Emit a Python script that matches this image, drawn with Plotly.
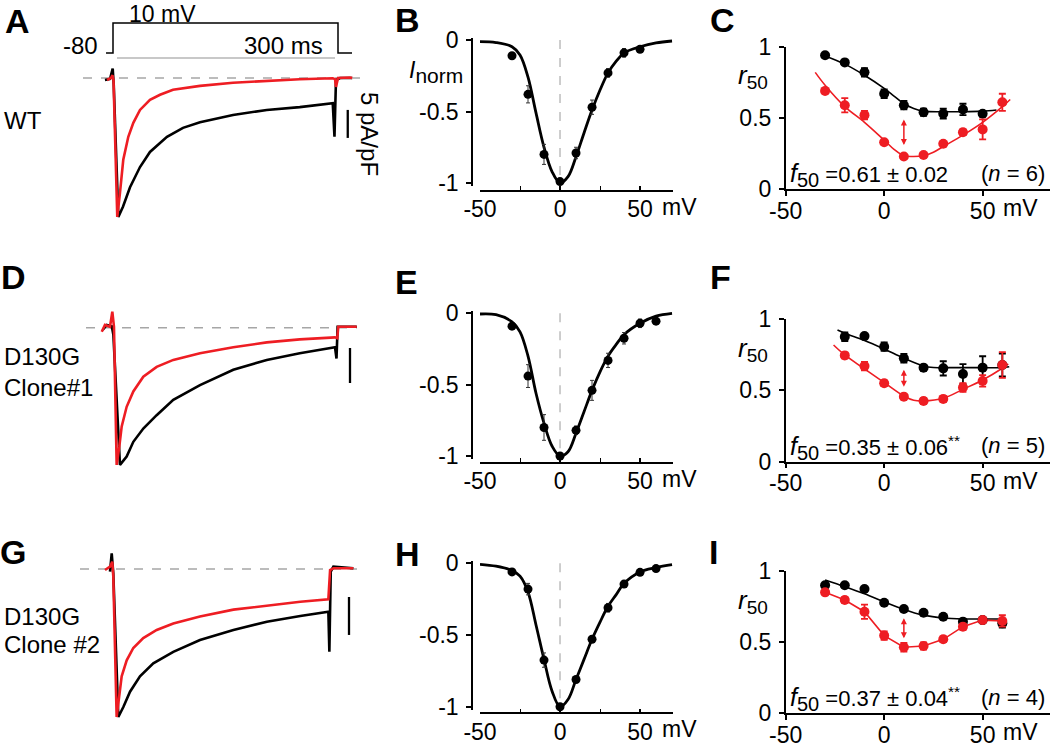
import plotly.graph_objects as go

# ---------------- DATA ----------------
# Panel A/D/G current traces: time (ms) and current density (pA/pF)
a_black_t = [-10.7, -4, -0.4, 1.0, 7.1, 13.3, 22.7, 36, 49.3, 72, 93.3, 116, 160, 205, 249, 293, 295.3, 297.3, 302.7, 319]
a_black_i = [-0.36, -0.18, 1.7, -1.25, -24.8, -23.0, -19.5, -15.9, -13.2, -10.5, -8.9, -7.9, -6.6, -5.7, -5.2, -4.5, -10.5, -0.36, 0, 0]
a_red_t = [-8, -2.7, -0.7, 0.7, 5.7, 8.0, 9.3, 13.7, 20.4, 27.1, 36, 49.3, 62.7, 80, 116, 160, 205, 249, 293, 296, 297.3, 300, 316, 319]
a_red_i = [-0.36, 0, 0.5, -0.4, -24.8, -22.3, -20.5, -14.6, -10.5, -8.0, -5.7, -3.9, -3.0, -2.1, -1.4, -0.84, -0.48, -0.23, -0.05, -0.2, -1.6, 0, 0.1, 0]

d_black_t = [-13.8, -8.4, -1.6, 0.5, 9.3, 18.2, 27.1, 40.4, 58.2, 80.4, 116, 160.4, 205, 249, 296, 298, 299.5, 325]
d_black_i = [-0.33, 0.39, 0.2, -1.0, -19.6, -18.4, -16.3, -14.4, -12.5, -10.3, -8.2, -6.0, -4.6, -3.66, -2.8, -4.4, 0.14, 0.14]
d_red_t = [-15, -10.7, -4, -0.9, 1.3, 4.9, 8.4, 11.6, 18.2, 27.1, 40.4, 58.2, 80.4, 116, 160.4, 205, 249, 296, 299, 300.4, 325]
d_red_i = [-0.57, 0.39, 0.14, 2.3, 0.14, -19.6, -17.0, -14.1, -11.3, -9.1, -7.0, -5.6, -4.6, -3.66, -2.8, -2.1, -1.67, -1.38, -1.5, 0.14, 0.14]

g_black_t = [-2.75, -0.4, 1.8, 8.7, 15.6, 24.8, 38.5, 56.8, 84.3, 121, 167, 213, 259, 297.6, 299, 300.9, 304.5, 332]
g_black_i = [-0.35, 2.05, -0.6, -19.3, -18.0, -16.0, -14.0, -12.3, -10.8, -9.26, -7.95, -6.87, -6.13, -5.56, -10.8, -0.35, 0.3, 0.09]
g_red_t = [-9.6, -2.75, 0.4, 1.8, 6.4, 10, 13.3, 20.2, 29.3, 43, 61.5, 84.3, 121, 167, 213, 259, 297.6, 300, 304.5, 332]
g_red_i = [-0.13, 0.3, 0.95, -1.0, -19.3, -16.6, -14.0, -11.9, -10.3, -9.0, -7.95, -7.1, -6.2, -5.3, -4.8, -4.26, -3.95, -0.13, 0.09, 0.09]

# voltage protocol (ms, mV)
proto_t = [-9.3, 0, 0, 300, 300, 318.7]
proto_v = [-80, -80, 10, 10, -80, -80]

# normalized I-V (B, E, H)
b_v = [-30, -20, -10, 0, 10, 20, 30, 40, 50]
b_i = [-0.11, -0.38, -0.80, -0.99, -0.79, -0.47, -0.23, -0.09, -0.065]
b_err = [0.0, 0.06, 0.07, 0.01, 0.04, 0.05, 0.03, 0.03, 0.01]
fit_v = [-50, -40, -30, -25, -20, -15, -10, -5, 0, 5, 10, 15, 20, 25, 30, 35, 40, 50, 60, 70]
b_fit = [-0.012, -0.018, -0.047, -0.105, -0.26, -0.51, -0.75, -0.92, -1.0, -0.956, -0.816, -0.65, -0.49, -0.35, -0.23, -0.15, -0.09, -0.047, -0.02, -0.007]

e_v = [-30, -20, -10, 0, 10, 20, 30, 40, 50, 60]
e_i = [-0.09, -0.44, -0.80, -1.0, -0.82, -0.54, -0.33, -0.175, -0.07, -0.055]
e_err = [0.01, 0.08, 0.09, 0.01, 0.03, 0.07, 0.05, 0.04, 0.03, 0.02]
e_fit = [-0.005, -0.01, -0.06, -0.13, -0.30, -0.56, -0.77, -0.93, -1.0, -0.97, -0.84, -0.69, -0.54, -0.41, -0.30, -0.22, -0.15, -0.07, -0.02, 0.0]

h_v = [-30, -20, -10, 0, 10, 20, 30, 40, 50, 60]
h_i = [-0.06, -0.18, -0.675, -1.0, -0.81, -0.53, -0.31, -0.145, -0.063, -0.037]
h_err = [0.02, 0.04, 0.05, 0.01, 0.02, 0.01, 0.03, 0.01, 0.01, 0.01]
h_fit = [-0.007, -0.02, -0.05, -0.09, -0.20, -0.43, -0.67, -0.89, -1.0, -0.95, -0.81, -0.67, -0.53, -0.41, -0.30, -0.22, -0.14, -0.06, -0.03, -0.01]

# r50 (C, F, I)
c_v_black = [-30, -20, -10, 0, 10, 20, 30, 40, 50]
c_black = [0.94, 0.89, 0.82, 0.67, 0.59, 0.54, 0.53, 0.56, 0.53]
c_black_err = [0.01, 0.01, 0.03, 0.03, 0.03, 0.025, 0.035, 0.04, 0.01]
c_fit_black_v = [-30, -20, -10, 0, 5, 10, 15, 20, 30, 40, 50, 57]
c_fit_black = [0.935, 0.878, 0.80, 0.708, 0.654, 0.60, 0.567, 0.548, 0.544, 0.544, 0.548, 0.556]
c_v_red = [-30, -20, -10, 0, 10, 20, 30, 40, 50, 60]
c_red = [0.69, 0.59, 0.52, 0.33, 0.23, 0.24, 0.32, 0.40, 0.42, 0.61]
c_red_err = [0.01, 0.05, 0.03, 0.01, 0.01, 0.01, 0.01, 0.02, 0.07, 0.06]
c_fit_red_v = [-35, -30, -20, -10, 0, 5, 10, 15, 20, 25, 30, 40, 50, 60, 64]
c_fit_red = [0.82, 0.73, 0.58, 0.47, 0.345, 0.28, 0.235, 0.23, 0.235, 0.26, 0.30, 0.38, 0.47, 0.58, 0.63]

f_v = [-20, -10, 0, 10, 20, 30, 40, 50, 60]
f_black = [0.876, 0.88, 0.806, 0.725, 0.659, 0.654, 0.614, 0.659, 0.678]
f_black_err = [0.03, 0.01, 0.03, 0.03, 0.02, 0.05, 0.07, 0.08, 0.08]
f_fit_black_v = [-23.7, -20, -10, 0, 10, 20, 25, 30, 40, 50, 60, 63.5]
f_fit_black = [0.923, 0.90, 0.85, 0.79, 0.725, 0.671, 0.66, 0.659, 0.659, 0.659, 0.659, 0.665]
f_red = [0.745, 0.67, 0.55, 0.456, 0.425, 0.44, 0.52, 0.566, 0.678]
f_red_err = [0.02, 0.03, 0.02, 0.01, 0.02, 0.02, 0.03, 0.04, 0.09]
f_fit_red_v = [-25.7, -20, -10, 0, 10, 15, 20, 30, 40, 50, 60, 63]
f_fit_red = [0.818, 0.748, 0.65, 0.555, 0.46, 0.43, 0.425, 0.444, 0.507, 0.573, 0.655, 0.685]

i_v = [-30, -20, -10, 0, 10, 20, 30, 40, 50, 60]
i_black = [0.90, 0.90, 0.873, 0.777, 0.733, 0.707, 0.679, 0.644, 0.655, 0.632]
i_black_err = [0.01, 0.01, 0.01, 0.01, 0.01, 0.01, 0.015, 0.015, 0.01, 0.03]
i_fit_black_v = [-30, -20, -10, 0, 10, 20, 30, 40, 50, 61]
i_fit_black = [0.937, 0.89, 0.84, 0.784, 0.73, 0.69, 0.67, 0.663, 0.663, 0.663]
i_red = [0.85, 0.796, 0.714, 0.546, 0.464, 0.473, 0.52, 0.609, 0.655, 0.649]
i_red_err = [0.01, 0.02, 0.05, 0.03, 0.03, 0.025, 0.02, 0.02, 0.01, 0.04]

# double-arrow extents at 10 mV (r50 units)
arrow_c = [0.50, 0.31]
arrow_f = [0.654, 0.526]
arrow_i = [0.679, 0.527]

f50_texts = ["=0.61 ± 0.02", "=0.35 ± 0.06<sup>**</sup>", "=0.37 ± 0.04<sup>**</sup>"]
n_texts = ["6", "5", "4"]

# ---------------- STYLE / LAYOUT ----------------
W, H = 1050, 747
RED = "#ee1d23"
BLACK = "#000000"
GRAY = "#a6a6a6"
FONT = "Liberation Sans, Arial, sans-serif"
TICK = 23
LAB = 24


def px(x):
    return x / W


def py(y):
    return 1 - y / H


fig = go.Figure()
layout = dict(width=W, height=H, margin=dict(l=0, r=0, t=0, b=0, pad=0, autoexpand=False),
              autosize=False,
              paper_bgcolor="white", plot_bgcolor="rgba(0,0,0,0)",
              showlegend=False, font=dict(family=FONT, color="black", size=LAB))
annotations = []


def hidden_axes(n, xpx, xr, ypx, yr):
    layout[f"xaxis{n}"] = dict(domain=[px(xpx[0]), px(xpx[1])], range=xr, visible=False,
                               anchor=f"y{n}", fixedrange=True, automargin=False)
    layout[f"yaxis{n}"] = dict(domain=[py(ypx[1]), py(ypx[0])], range=yr, visible=False,
                               anchor=f"x{n}", fixedrange=True, automargin=False)


def line(n, x, y, color, width=2, dash=None, shape="linear"):
    fig.add_trace(go.Scatter(x=x, y=y, mode="lines", xaxis=f"x{n}", yaxis=f"y{n}",
                             line=dict(color=color, width=width, dash=dash, shape=shape),
                             hoverinfo="skip"))


# --- Trace panels (A, D, G) ---
def tmap(x0, k):
    return lambda x: (x - x0) / k


def trace_panel(n, x0, k, base_y, kpx, ypx, bt, bi, rt, ri, dash_px, bar_t, bar_i):
    tf = tmap(x0, k)
    xr = [tf(80), tf(372)]
    yr = [(base_y - ypx[1]) / kpx, (base_y - ypx[0]) / kpx]
    hidden_axes(n, (80, 372), xr, ypx, yr)
    line(n, [tf(dash_px[0]), tf(dash_px[1])], [0, 0], GRAY, 1.5, dash="dash")
    line(n, bt, bi, BLACK, 2.6)
    line(n, rt, ri, RED, 2.6)
    line(n, [bar_t, bar_t], bar_i, BLACK, 2.3)


trace_panel(1, 113, 0.75, 78, 5.6, (60, 225), a_black_t, a_black_i, a_red_t, a_red_i,
            (83, 360), 313, [-5.7, -10.7])
trace_panel(3, 113, 0.75, 327.7, 7.0, (300, 480), d_black_t, d_black_i, d_red_t, d_red_i,
            (86, 357), 316, [-2.9, -7.9])
trace_panel(4, 112, 0.727, 569, 7.67, (540, 730), g_black_t, g_black_i, g_red_t, g_red_i,
            (80, 357), 326, [-3.65, -8.6])

# protocol on panel A
tfa = tmap(113, 0.75)
hidden_axes(2, (80, 372), [tfa(80), tfa(372)], (15, 62), [-80 + (53 - 62) * 3, -80 + (53 - 15) * 3])
line(2, proto_t, proto_v, BLACK, 1.5)
line(2, [5.3, 296], [-95, -95], "#c8c8c8", 2)


# --- I-V panels (B, E, H) ---
def iv_panel(n, y0px, y1px, xaxis_px, v, i, err, fit):
    s = y1px - y0px
    dtop, dbot = y0px - 2, y1px + 3
    yr = [-(dbot - y0px) / s, (y0px - dtop) / s]
    layout[f"xaxis{n}"] = dict(domain=[px(480), px(673)], range=[-50, 70.6], anchor="free",
                               position=py(xaxis_px), showline=True, linecolor="black", linewidth=1.5,
                               ticks="inside", ticklen=4, tickwidth=1.5, tickcolor="black",
                               tickvals=[-50, 0, 50], ticktext=["-50", "0", "50"],
                               tickfont=dict(size=TICK, family=FONT), ticklabelstandoff=-2,
                               minor=dict(tickvals=[-25, 25], ticks="inside", ticklen=4, tickwidth=1.2,
                                          tickcolor="black"),
                               showgrid=False, zeroline=False, fixedrange=True, automargin=False)
    layout[f"yaxis{n}"] = dict(domain=[py(dbot), py(dtop)], range=yr, anchor="free", position=px(472),
                               showline=True, linecolor="black", linewidth=1.5,
                               ticks="outside", ticklen=5, tickwidth=1.5, tickcolor="black",
                               tickvals=[-1, -0.5, 0], ticktext=["-1", "-0.5", "0"],
                               tickfont=dict(size=TICK, family=FONT), ticklabelstandoff=3,
                               showgrid=False, zeroline=False, fixedrange=True, automargin=False)
    line(n, [0, 0], [0, -1], "#bdbdbd", 1.5, dash="dash")
    line(n, fit_v, fit, BLACK, 2.8, shape="spline")
    fig.add_trace(go.Scatter(x=v, y=i, mode="markers", xaxis=f"x{n}", yaxis=f"y{n}",
                             marker=dict(color=BLACK, size=9),
                             error_y=dict(type="data", array=err, color="#333333", thickness=1, width=2),
                             cliponaxis=False, hoverinfo="skip"))
    annotations.append(dict(x=px(660), y=py(xaxis_px + 16), xref="paper", yref="paper", text="mV",
                            showarrow=False, xanchor="left", yanchor="middle",
                            font=dict(size=TICK, family=FONT)))


iv_panel(5, 40, 183, 191, b_v, b_i, b_err, b_fit)
iv_panel(6, 313.3, 456, 462.7, e_v, e_i, e_err, e_fit)
iv_panel(7, 563.3, 706.7, 713.3, h_v, h_i, h_err, h_fit)


# --- r50 panels (C, F, I) ---
def r_panel(n, y1px, y0px, bv, b, berr, fbv, fb, rv, r, rerr, frv, fr, red_shape,
            arrow, f50, ntxt):
    layout[f"xaxis{n}"] = dict(domain=[px(785.7), px(1050)], range=[-50, 84.2], anchor=f"y{n}",
                               showline=True, linecolor="black", linewidth=1.5,
                               ticks="outside", ticklen=5, tickwidth=1.5, tickcolor="black",
                               tickvals=[-50, 0, 50], ticktext=["-50", "0", "50"],
                               tickfont=dict(size=TICK, family=FONT), ticklabelstandoff=-5,
                               showgrid=False, zeroline=False, fixedrange=True, automargin=False)
    layout[f"yaxis{n}"] = dict(domain=[py(y0px), py(y1px)], range=[0, 1], anchor=f"x{n}",
                               showline=True, linecolor="black", linewidth=1.5,
                               ticks="outside", ticklen=5, tickwidth=1.5, tickcolor="black",
                               tickvals=[0, 0.5, 1], ticktext=["0", "0.5", "1"],
                               tickfont=dict(size=TICK, family=FONT), ticklabelstandoff=3,
                               showgrid=False, zeroline=False, fixedrange=True, automargin=False)
    line(n, fbv, fb, BLACK, 1.6, shape="spline")
    line(n, frv, fr, RED, 1.6, shape=red_shape)
    fig.add_trace(go.Scatter(x=bv, y=b, mode="markers", xaxis=f"x{n}", yaxis=f"y{n}",
                             marker=dict(color=BLACK, size=10),
                             error_y=dict(type="data", array=berr, color=BLACK, thickness=1.8, width=3.5),
                             cliponaxis=False, hoverinfo="skip"))
    fig.add_trace(go.Scatter(x=rv, y=r, mode="markers", xaxis=f"x{n}", yaxis=f"y{n}",
                             marker=dict(color=RED, size=10),
                             error_y=dict(type="data", array=rerr, color=RED, thickness=1.8, width=3.5),
                             cliponaxis=False, hoverinfo="skip"))
    annotations.append(dict(x=10, y=arrow[1], ax=10, ay=arrow[0], xref=f"x{n}", yref=f"y{n}",
                            axref=f"x{n}", ayref=f"y{n}", text="", showarrow=True,
                            arrowside="end+start", arrowhead=2, arrowsize=0.8, arrowwidth=1.5,
                            arrowcolor=RED, standoff=0, startstandoff=0))
    annotations.append(dict(x=px(788), y=py(y0px - 14), xref="paper", yref="paper",
                            text="<i><span style='font-size:25px'>f</span></i>"
                                 "<sub><span style='font-size:20px'>50</span></sub> " + f50,
                            showarrow=False,
                            xanchor="left", yanchor="middle", font=dict(size=22, family=FONT)))
    annotations.append(dict(x=px(1047), y=py(y0px - 16), xref="paper", yref="paper",
                            text="(<i>n</i> = " + ntxt + ")", showarrow=False,
                            xanchor="right", yanchor="middle", font=dict(size=22, family=FONT)))
    annotations.append(dict(x=px(753), y=py(y1px + 30), xref="paper", yref="paper",
                            text="<i>r</i><sub><span style='font-size:19px'>50</span></sub>",
                            showarrow=False,
                            xanchor="center", yanchor="middle", font=dict(size=26, family=FONT)))
    annotations.append(dict(x=px(1001), y=py(y0px + 19), xref="paper", yref="paper", text="mV",
                            showarrow=False, xanchor="left", yanchor="middle",
                            font=dict(size=TICK, family=FONT)))


r_panel(8, 46.7, 189.3, c_v_black, c_black, c_black_err, c_fit_black_v, c_fit_black,
        c_v_red, c_red, c_red_err, c_fit_red_v, c_fit_red, "spline", arrow_c, f50_texts[0], n_texts[0])
r_panel(9, 319, 461.7, f_v, f_black, f_black_err, f_fit_black_v, f_fit_black,
        f_v, f_red, f_red_err, f_fit_red_v, f_fit_red, "spline", arrow_f, f50_texts[1], n_texts[1])
r_panel(10, 571, 713.3, i_v, i_black, i_black_err, i_fit_black_v, i_fit_black,
        i_v, i_red, i_red_err, i_v, i_red, "linear", arrow_i, f50_texts[2], n_texts[2])


# --- texts ---
def txt(x, y, t, size=LAB, xa="left", ya="middle", angle=0):
    annotations.append(dict(x=px(x), y=py(y), xref="paper", yref="paper", text=t, showarrow=False,
                            xanchor=xa, yanchor=ya, textangle=angle,
                            font=dict(size=size, family=FONT, color="black")))


for lt, lx, ly in [("A", 17, 21), ("B", 407, 20), ("C", 722, 20),
                   ("D", 13, 277), ("E", 406, 282), ("F", 720, 277),
                   ("G", 13, 552), ("H", 407, 554), ("I", 713, 552)]:
    txt(lx, ly, f"<b>{lt}</b>", size=34, xa="center")

txt(162, 14, "10 mV", size=23, xa="center")
txt(100, 46, "-80", xa="right")
txt(325, 46, "300 ms", xa="right")
txt(370, 134, "5 pA/pF", xa="center", angle=90)
txt(2, 120, "WT")
txt(2, 357, "D130G")
txt(2, 387, "Clone#1")
txt(2, 616, "D130G")
txt(2, 644, "Clone #2")
txt(436, 72, "<i>I</i><sub><span style='font-size:21px'>norm</span></sub>", size=23, xa="center")

layout["annotations"] = annotations
fig.update_layout(**layout)
fig.write_html("out.html", config={"displayModeBar": False},
               post_script="document.body.style.margin='0px';")
